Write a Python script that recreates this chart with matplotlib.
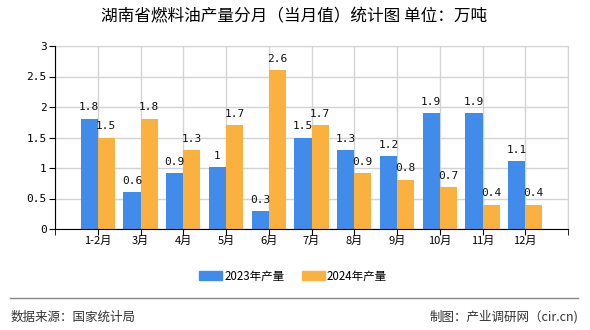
import matplotlib
matplotlib.use("Agg")
import matplotlib.pyplot as plt
from matplotlib.patches import Patch
from matplotlib.lines import Line2D
import numpy as np

plt.rcParams['font.family'] = ['Noto Sans CJK SC', 'DejaVu Sans']

categories = ["1-2月", "3月", "4月", "5月", "6月", "7月", "8月", "9月", "10月", "11月", "12月"]
values_2023 = [1.81, 0.6, 0.91, 1.01, 0.3, 1.5, 1.3, 1.2, 1.9, 1.9, 1.11]
values_2024 = [1.5, 1.81, 1.3, 1.71, 2.61, 1.71, 0.91, 0.81, 0.69, 0.4, 0.4]
labels_2023 = ["1.8", "0.6", "0.9", "1", "0.3", "1.5", "1.3", "1.2", "1.9", "1.9", "1.1"]
labels_2024 = ["1.5", "1.8", "1.3", "1.7", "2.6", "1.7", "0.9", "0.8", "0.7", "0.4", "0.4"]
series_names = ["2023年产量", "2024年产量"]
yticks = [0, 0.5, 1, 1.5, 2, 2.5, 3]
ytick_labels = ["0", "0.5", "1", "1.5", "2", "2.5", "3"]

c1 = "#418CEB"
c2 = "#FBB13F"

fig = plt.figure(figsize=(5.9, 3.3), dpi=100)
ax = fig.add_axes([55/590, 1-229/330, (568-55)/590, (229-46)/330])

x = np.arange(len(categories))
w = 0.4
ax.bar(x - w/2, values_2023, width=w, color=c1, zorder=3)
ax.bar(x + w/2, values_2024, width=w, color=c2, zorder=3)

mono = 'DejaVu Sans Mono'
for xi, v, t in zip(x, values_2023, labels_2023):
    ax.text(xi - w/2, v + 0.1, t, ha='center', va='bottom', fontsize=8, family=mono, color='#111111')
for xi, v, t in zip(x, values_2024, labels_2024):
    ax.text(xi + w/2, v + 0.1, t, ha='center', va='bottom', fontsize=8, family=mono, color='#111111')

ax.set_xlim(-1, 11)
ax.set_ylim(0, 3)
ax.set_yticks(yticks)
ax.set_yticklabels(ytick_labels, family=mono, fontsize=8)
ax.set_xticks(list(x))
ax.set_xticklabels(categories, fontsize=8)
ax.set_xticks([-1, 11], minor=True)
ax.tick_params(axis='x', which='both', length=4, color='black', pad=1)
ax.tick_params(axis='y', length=4, color='black', pad=2)

ax.grid(True, color='#d3d3d3', linewidth=1, zorder=0)
ax.grid(True, which='minor', axis='x', color='#d3d3d3', linewidth=1, zorder=0)
for s in ['top', 'right']:
    ax.spines[s].set_color('#d3d3d3')
for s in ['left', 'bottom']:
    ax.spines[s].set_color('black')
    ax.spines[s].set_zorder(4)

fig.text(294/590, 1-17/330, "湖南省燃料油产量分月（当月值）统计图 单位：万吨", ha='center', va='center', fontsize=12)

handles = [Patch(color=c1), Patch(color=c2)]
fig.legend(handles, series_names, loc='center', bbox_to_anchor=(293/590, 1-276/330), ncol=2,
           frameon=False, fontsize=8.3, handlelength=2.0, handleheight=0.8, columnspacing=1.5, handletextpad=0.2)

fig.add_artist(Line2D([10/590, 578/590], [1-298/330, 1-298/330], color='#888888', linewidth=1))
fig.text(11/590, 1-317/330, "数据来源：国家统计局", ha='left', va='center', fontsize=9, color='#333333')
fig.text(578/590, 1-317/330, "制图：产业调研网（cir.cn)", ha='right', va='center', fontsize=9, color='#333333')

fig.savefig("out.png", dpi=100)
